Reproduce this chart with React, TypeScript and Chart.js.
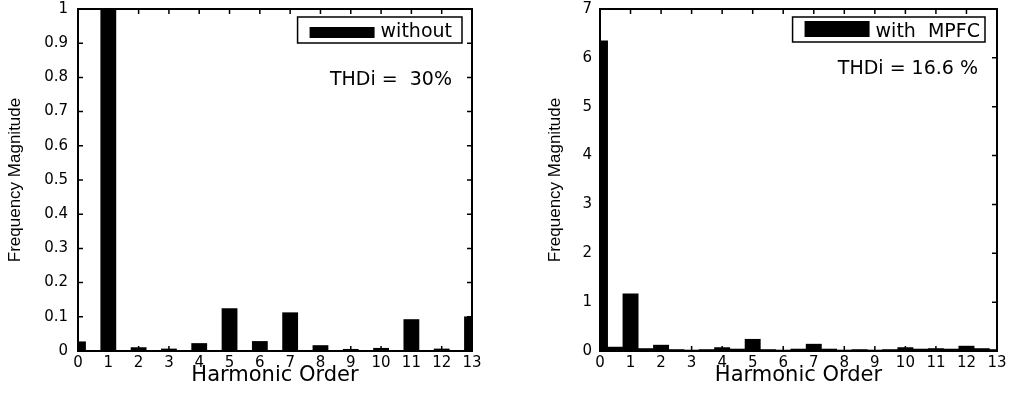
import React, { useEffect, useRef } from "react";
import { Chart, registerables } from "chart.js";

Chart.register(...registerables);

// ---------- data ----------
const harmonicOrder = [
  0, 0.5, 1, 1.5, 2, 2.5, 3, 3.5, 4, 4.5, 5, 5.5, 6, 6.5, 7, 7.5, 8, 8.5, 9, 9.5,
  10, 10.5, 11, 11.5, 12, 12.5, 13,
];
const magnitudeWithout = [
  0.027, 0.002, 1.0, 0.002, 0.01, 0.002, 0.006, 0.002, 0.022, 0.002, 0.124, 0.002,
  0.028, 0.002, 0.112, 0.002, 0.016, 0.002, 0.005, 0.002, 0.008, 0.002, 0.092,
  0.002, 0.006, 0.002, 0.1,
];
const magnitudeWithMPFC = [
  6.35, 0.08, 1.17, 0.05, 0.12, 0.03, 0.02, 0.03, 0.07, 0.04, 0.24, 0.03, 0.02,
  0.04, 0.14, 0.04, 0.02, 0.03, 0.02, 0.03, 0.07, 0.04, 0.05, 0.04, 0.1, 0.05, 0.03,
];
const xTickValues = [0, 1, 2, 3, 4, 5, 6, 7, 8, 9, 10, 11, 12, 13];
const yTicksWithout = [0, 0.1, 0.2, 0.3, 0.4, 0.5, 0.6, 0.7, 0.8, 0.9, 1];
const yTicksWithMPFC = [0, 1, 2, 3, 4, 5, 6, 7];
const legendWithout = "without";
const legendWithMPFC = "with  MPFC";
const thdWithout = "THDi =  30%";
const thdWithMPFC = "THDi = 16.6 %";
const xTitle = "Harmonic Order";
const yTitle = "Frequency Magnitude";

type Geom = {
  padRight: number;
  yWidth: number;
  yTitlePad: number;
  yTickPad: number;
  yMax: number;
  yTicks: number[];
  boxRightOff: number;
  boxTopOff: number;
  boxH: number;
  swTopOff: number;
  swH: number;
  swW: number;
  textPad: number;
  legendBaseOff: number;
  thdRightOff: number;
  thdBaseOff: number;
};

function framePlugin(legend: string, thd: string, g: Geom) {
  return {
    id: "matlabFrame",
    afterDatasetsDraw(chart: any) {
      const { ctx, chartArea: a, scales } = chart;
      const xs = scales.x;
      const ys = scales.y;
      ctx.save();
      ctx.strokeStyle = "#000";
      ctx.lineWidth = 1.5;
      const tl = 5;
      ctx.beginPath();
      xs.ticks.forEach((t: any) => {
        const px = xs.getPixelForValue(t.value);
        ctx.moveTo(px, a.bottom);
        ctx.lineTo(px, a.bottom - tl);
        ctx.moveTo(px, a.top);
        ctx.lineTo(px, a.top + tl);
      });
      ys.ticks.forEach((t: any) => {
        const py = ys.getPixelForValue(t.value);
        ctx.moveTo(a.left, py);
        ctx.lineTo(a.left + tl, py);
        ctx.moveTo(a.right, py);
        ctx.lineTo(a.right - tl, py);
      });
      ctx.stroke();
      ctx.lineWidth = 2;
      ctx.strokeRect(a.left, a.top, a.right - a.left, a.bottom - a.top);

      // legend box
      ctx.font = "19px 'DejaVu Sans'";
      ctx.fillStyle = "#000";
      const tw = ctx.measureText(legend).width;
      const boxRight = a.right - g.boxRightOff;
      const textRight = boxRight - g.textPad;
      const textLeft = textRight - tw;
      const swRight = textLeft - 6;
      const swLeft = swRight - g.swW;
      const boxLeft = swLeft - 12;
      const boxTop = a.top + g.boxTopOff;
      ctx.fillStyle = "#fff";
      ctx.fillRect(boxLeft, boxTop, boxRight - boxLeft, g.boxH);
      ctx.lineWidth = 1.5;
      ctx.strokeRect(boxLeft, boxTop, boxRight - boxLeft, g.boxH);
      ctx.fillStyle = "#000";
      ctx.fillRect(swLeft, a.top + g.swTopOff, g.swW, g.swH);
      ctx.textAlign = "left";
      ctx.textBaseline = "alphabetic";
      ctx.fillText(legend, textLeft, a.top + g.legendBaseOff);

      // THD annotation
      ctx.font = "19px 'DejaVu Sans'";
      ctx.textAlign = "right";
      ctx.fillText(thd, a.right - g.thdRightOff, a.top + g.thdBaseOff);
      ctx.restore();
    },
  };
}

function makeChart(
  canvas: HTMLCanvasElement,
  values: number[],
  legend: string,
  thd: string,
  g: Geom
) {
  const data = harmonicOrder.map((x, i) => ({ x, y: values[i] }));
  return new Chart(canvas, {
    type: "bar",
    data: {
      datasets: [
        {
          label: legend,
          data,
          backgroundColor: "#000",
          borderWidth: 0,
          barPercentage: 1,
          categoryPercentage: 1,
          clip: 0,
        } as any,
      ],
    },
    options: {
      responsive: false,
      animation: false,
      devicePixelRatio: 1,
      layout: { padding: { left: 0, right: g.padRight, top: 9, bottom: 0 } },
      plugins: {
        legend: { display: false },
        tooltip: { enabled: false },
      },
      scales: {
        x: {
          type: "linear",
          min: 0,
          max: 13,
          offset: false,
          grid: { display: false, drawTicks: false },
          border: { display: false },
          afterBuildTicks: (s: any) => {
            s.ticks = xTickValues.map((v) => ({ value: v }));
          },
          afterFit: (s: any) => {
            s.height = 43;
            s.paddingLeft = 0;
            s.paddingRight = 0;
          },
          ticks: {
            autoSkip: false,
            maxRotation: 0,
            padding: 3,
            color: "#000",
            font: { family: "'DejaVu Sans'", size: 15 },
            callback: (v: any) => String(v),
          },
          title: {
            display: true,
            text: xTitle,
            color: "#000",
            font: { family: "'DejaVu Sans'", size: 21 },
            padding: { top: 0, bottom: 6 },
          },
        },
        y: {
          type: "linear",
          min: 0,
          max: g.yMax,
          grid: { display: false, drawTicks: false },
          border: { display: false },
          afterBuildTicks: (s: any) => {
            s.ticks = g.yTicks.map((v) => ({ value: v }));
          },
          afterFit: (s: any) => {
            s.width = g.yWidth;
            s.paddingTop = 0;
            s.paddingBottom = 0;
          },
          ticks: {
            padding: g.yTickPad,
            color: "#000",
            font: { family: "'DejaVu Sans'", size: 15 },
            callback: (v: any) => String(Number(Number(v).toFixed(1))),
          },
          title: {
            display: true,
            text: yTitle,
            color: "#000",
            font: { family: "'Liberation Sans', Arial, sans-serif", size: 17 },
            padding: { top: g.yTitlePad, bottom: 0 },
          },
        },
      },
    } as any,
    plugins: [framePlugin(legend, thd, g)],
  });
}

const geomWithout: Geom = {
  padRight: 28,
  yWidth: 78,
  yTitlePad: 5,
  yTickPad: 10,
  yMax: 1,
  yTicks: yTicksWithout,
  boxRightOff: 10,
  boxTopOff: 8,
  boxH: 26,
  swTopOff: 18,
  swH: 11,
  swW: 65,
  textPad: 10,
  legendBaseOff: 28,
  thdRightOff: 20,
  thdBaseOff: 76,
};

const geomWithMPFC: Geom = {
  padRight: 12,
  yWidth: 91,
  yTitlePad: 36,
  yTickPad: 8,
  yMax: 7,
  yTicks: yTicksWithMPFC,
  boxRightOff: 12,
  boxTopOff: 8,
  boxH: 25,
  swTopOff: 12,
  swH: 16,
  swW: 65,
  textPad: 5,
  legendBaseOff: 28,
  thdRightOff: 19,
  thdBaseOff: 65,
};

export default function App() {
  const leftRef = useRef<HTMLCanvasElement | null>(null);
  const rightRef = useRef<HTMLCanvasElement | null>(null);

  useEffect(() => {
    const c1 = makeChart(leftRef.current!, magnitudeWithout, legendWithout, thdWithout, geomWithout);
    const c2 = makeChart(rightRef.current!, magnitudeWithMPFC, legendWithMPFC, thdWithMPFC, geomWithMPFC);
    return () => {
      c1.destroy();
      c2.destroy();
    };
  }, []);

  return (
    <div
      style={{
        position: "fixed",
        left: 0,
        top: 0,
        width: 1009,
        height: 394,
        background: "#fff",
        overflow: "hidden",
      }}
    >
      <canvas
        ref={leftRef}
        width={500}
        height={394}
        style={{ position: "absolute", left: 0, top: 0, width: 500, height: 394 }}
      />
      <canvas
        ref={rightRef}
        width={500}
        height={394}
        style={{ position: "absolute", left: 509, top: 0, width: 500, height: 394 }}
      />
    </div>
  );
}
